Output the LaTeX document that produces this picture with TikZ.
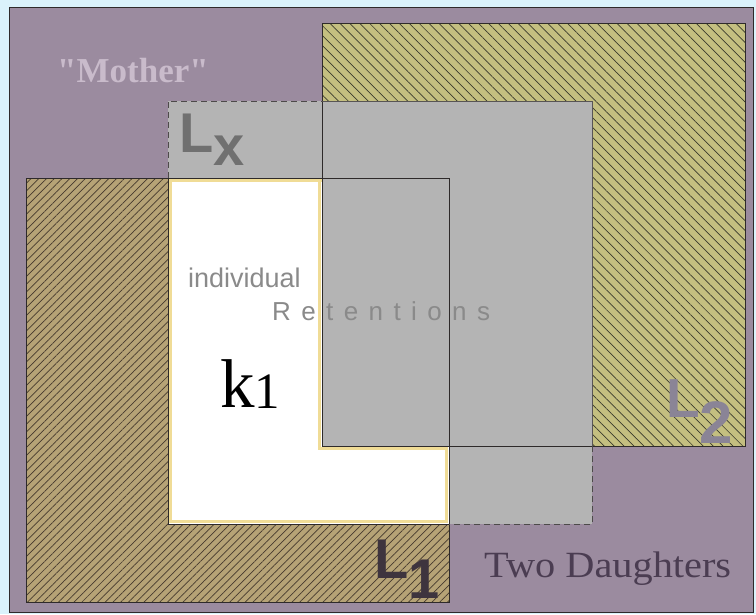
\documentclass[tikz,border=0pt]{standalone}
\usepackage{fontspec}
\setmainfont{Liberation Serif}
\newfontfamily\sansf{Liberation Sans}
\newfontfamily\spacedf[LetterSpace=40]{Liberation Sans}
\usetikzlibrary{patterns.meta}
\definecolor{bgcyan}{RGB}{218,242,251}
\definecolor{mauve}{RGB}{155,139,159}
\definecolor{lonefill}{RGB}{182,163,118}
\definecolor{lonehatch}{RGB}{70,58,46}
\definecolor{ltwofill}{RGB}{196,191,128}
\definecolor{ltwohatch}{RGB}{58,58,44}
\definecolor{lxgray}{RGB}{180,180,180}
\definecolor{edgec}{RGB}{46,42,42}
\definecolor{glowc}{RGB}{240,220,150}
\definecolor{mothc}{RGB}{201,187,203}
\definecolor{lxtext}{RGB}{112,112,112}
\definecolor{lonetext}{RGB}{62,52,62}
\definecolor{ltwotext}{RGB}{138,132,150}
\definecolor{greytext}{RGB}{138,138,138}
\definecolor{daughc}{RGB}{75,61,82}
\tikzset{
  edge/.style={draw=edgec, line width=1pt},
  dashedge/.style={draw=edgec!85, line width=1pt, dashed, dash pattern=on 6pt off 4pt},
  glow/.style={draw=glowc, line width=2.5pt},
  lbl/.style={inner sep=0pt, anchor=base west}
}
\begin{document}
\begin{tikzpicture}[x=1pt,y=-1pt]
\useasboundingbox (0,0) rectangle (756,614);
\fill[bgcyan] (0,0) rectangle (756,614);
% mother frame
\draw[edgec, line width=1pt, fill=mauve] (9,7) rectangle (753,612);
% L1 hatched
\path[preaction={fill=lonefill}, pattern={Lines[angle=45,distance=5.5pt,line width=0.7pt]}, pattern color=lonehatch] (26,178) rectangle (449,602);
% L2 hatched
\path[preaction={fill=ltwofill}, pattern={Lines[angle=-45,distance=7pt,line width=0.7pt]}, pattern color=ltwohatch] (322,23) rectangle (745,446);
% Lx gray
\fill[lxgray] (168,101) rectangle (592,524);
% white individual region
\fill[white] (168,178) rectangle (449,524);
\draw[glow] (170.5,180.5) rectangle (446.5,521.5);
% inner gray retentions region
\fill[lxgray] (322,178) rectangle (449,446);
\draw[glow] (319.5,178) -- (319.5,448.5) -- (447,448.5);
% outlines
\draw[edge] (26,178) rectangle (449,602);
\draw[edge] (322,23) rectangle (745,446);
\draw[edge] (168,178) -- (168,524) -- (449,524);
\draw[dashedge] (168,178) -- (168,101) -- (322,101);
\draw[dashedge] (592,446) -- (592,524) -- (449,524);
\draw[edgec!80, line width=0.8pt] (322,101) -- (592,101) -- (592,446);
% texts
\node[lbl, text=mothc, font=\fontsize{35}{38}\selectfont\bfseries] (mother) at (57,82) {\textquotedbl Mother\textquotedbl};
\node[lbl, text=lxtext, font=\fontsize{56}{60}\selectfont\sansf\bfseries] (lx) at (179,152) {L\raisebox{-13pt}{x}};
\node[lbl, text=greytext, font=\fontsize{27}{30}\selectfont\sansf] (indiv) at (188,287) {individual};
\node[lbl, text=greytext, font=\fontsize{26}{30}\selectfont\spacedf] (reten) at (272,320) {Retentions};
\node[lbl, text=black, font=\fontsize{69}{72}\selectfont] (kone) at (220,407) {k\raisebox{-1pt}{\fontsize{51}{54}\selectfont 1}};
\node[lbl, text=lonetext, font=\fontsize{56}{60}\selectfont\sansf\bfseries] (lone) at (374,578) {L\raisebox{-20pt}{1}};
\node[lbl, text=ltwotext, font=\fontsize{55}{60}\selectfont\sansf\bfseries] (ltwo) at (666,417) {L\raisebox{-26pt}{\fontsize{60}{64}\selectfont 2}};
\node[lbl, text=daughc, font=\fontsize{37}{40}\selectfont, xscale=1.09] (daugh) at (484,577) {Two Daughters};
\end{tikzpicture}
\end{document}
